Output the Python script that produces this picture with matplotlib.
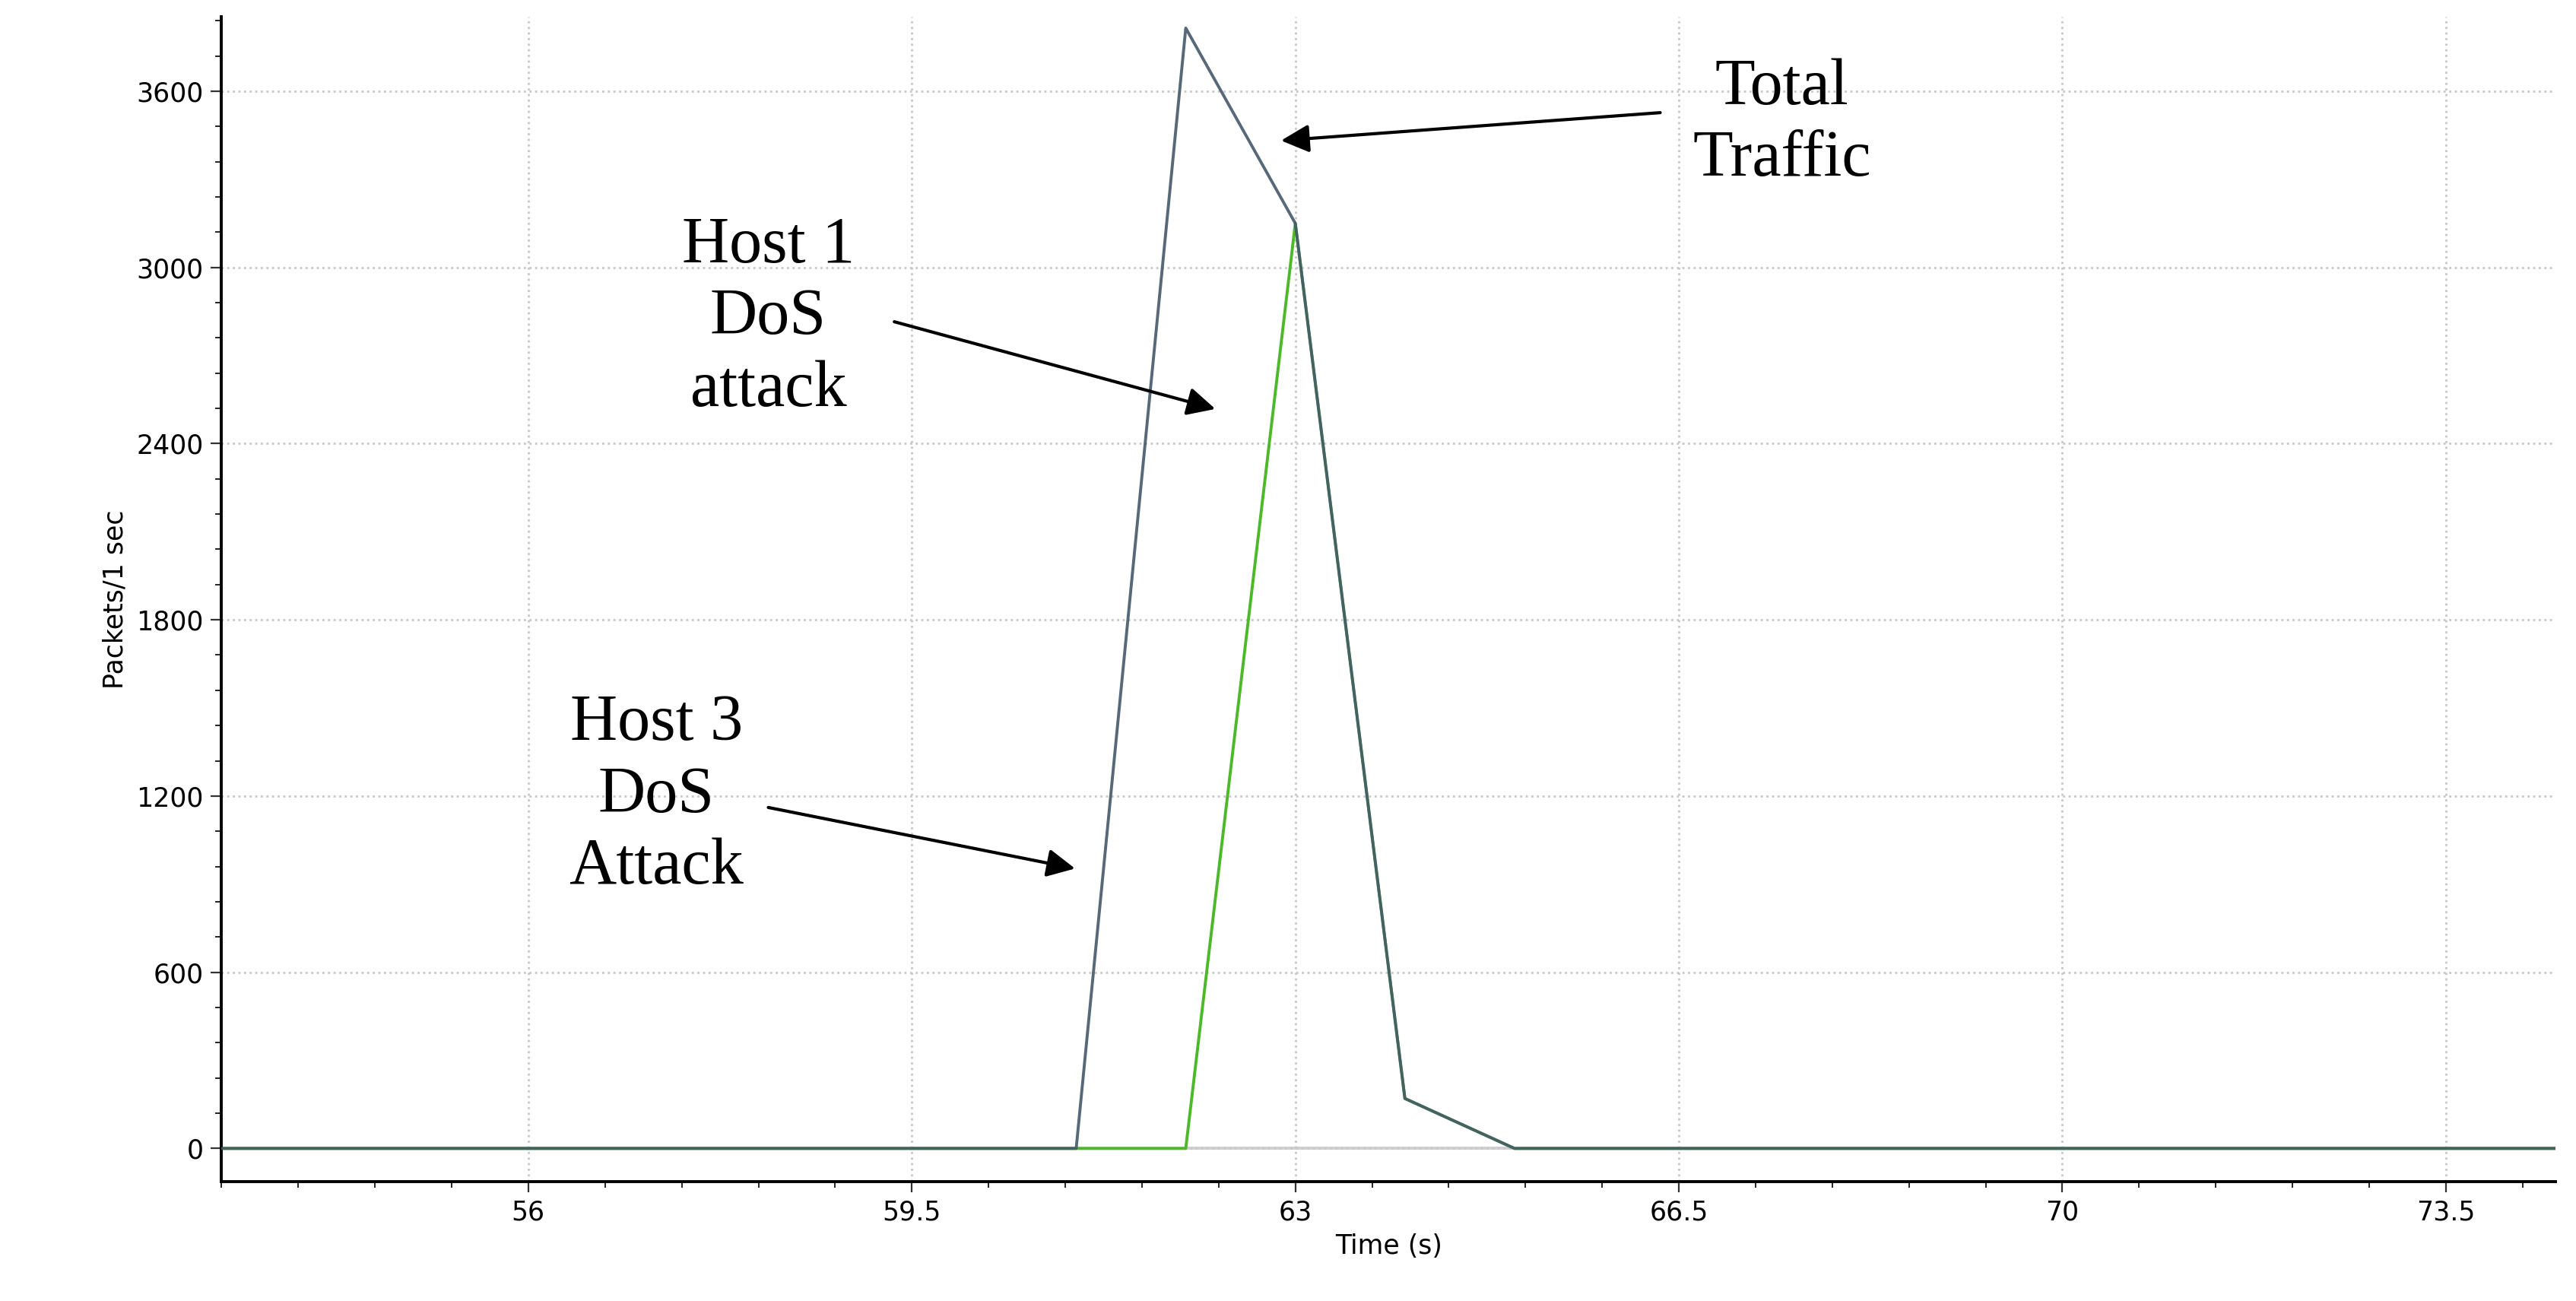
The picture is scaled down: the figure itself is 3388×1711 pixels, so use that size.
import matplotlib.pyplot as plt
from matplotlib.ticker import AutoMinorLocator

# Packet rate data (packets per 1 sec)
time_total = [53.2, 61, 62, 63, 64, 65, 74.5]
pkts_total = [0, 0, 3815, 3150, 170, 0, 0]
time_host1 = [53.2, 62, 63, 64, 65, 74.5]
pkts_host1 = [0, 0, 3150, 170, 0, 0]

x_ticks = [56, 59.5, 63, 66.5, 70, 73.5]
x_labels = ["56", "59.5", "63", "66.5", "70", "73.5"]
y_ticks = [0, 600, 1200, 1800, 2400, 3000, 3600]

fig = plt.figure(figsize=(16.94, 8.555), dpi=200)
ax = fig.add_axes([0.086, 0.092, 0.906, 0.895])

ax.axhline(0, color='#d0d0d0', lw=1.5, zorder=1)
ax.plot(time_host1, pkts_host1, color='#4cb82a', lw=1.4, zorder=2)
ax.plot(time_total, pkts_total, color='#45586a', lw=1.4, zorder=3, alpha=0.9)

ax.set_xlim(53.2, 74.5)
ax.set_ylim(-112, 3853)
ax.set_xticks(x_ticks)
ax.set_xticklabels(x_labels)
ax.set_yticks(y_ticks)
ax.xaxis.set_minor_locator(AutoMinorLocator(5))
ax.yaxis.set_minor_locator(AutoMinorLocator(5))
ax.tick_params(labelsize=12.5, length=5, color='#333333')
ax.tick_params(which='minor', length=3)
ax.grid(True, ls=':', color='#c8c8c8', lw=1)
ax.spines['top'].set_visible(False)
ax.spines['right'].set_visible(False)
ax.spines['left'].set_linewidth(1.4)
ax.spines['bottom'].set_linewidth(1.4)
ax.set_xlabel("Time (s)", fontsize=12.5, labelpad=4)
ax.set_ylabel("Packets/1 sec", fontsize=12.5)

txt = dict(fontsize=31, family='Liberation Serif', ha='center', va='center', linespacing=1.25)
arr = dict(arrowstyle='-|>', color='black', lw=1.5, mutation_scale=28, shrinkA=0, shrinkB=0)
ax.annotate("", xy=(62.87, 3432), xytext=(66.33, 3527), arrowprops=arr)
ax.text(67.44, 3488, "Total\nTraffic", **txt)
ax.annotate("", xy=(62.27, 2518), xytext=(59.34, 2815), arrowprops=arr)
ax.text(58.19, 2827, "Host 1\nDoS\nattack", **txt)
ax.annotate("", xy=(60.99, 953), xytext=(58.19, 1161), arrowprops=arr)
ax.text(57.17, 1200, "Host 3\nDoS\nAttack", **txt)

fig.savefig("out.png", dpi=200)
